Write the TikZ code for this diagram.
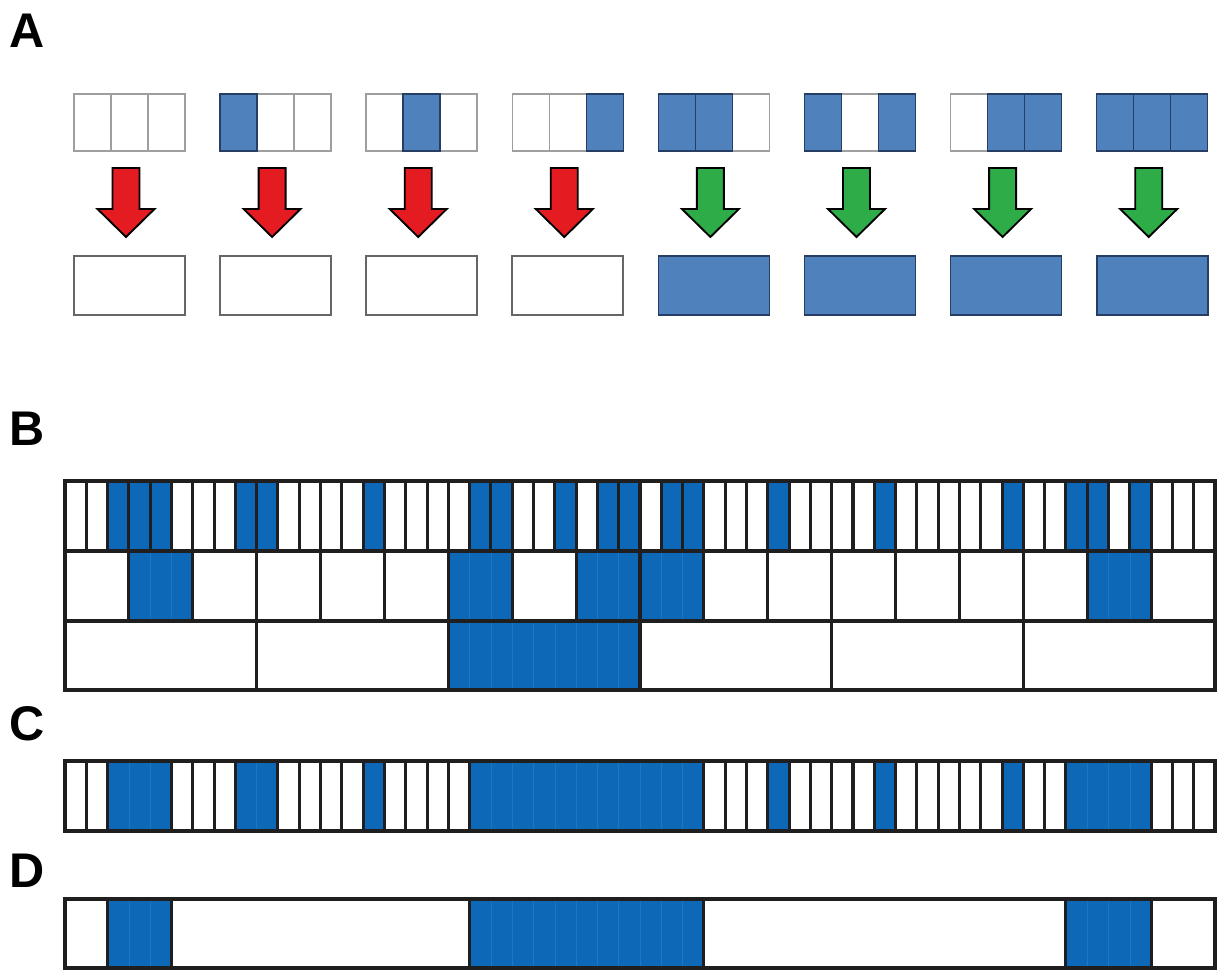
\documentclass[tikz,border=0pt]{standalone}
\usepackage{fontspec}
\setmainfont{Liberation Sans}
\definecolor{ablue}{RGB}{79,129,189}
\definecolor{anavy}{RGB}{38,62,100}
\definecolor{bblue}{RGB}{14,104,184}
\definecolor{fblue}{RGB}{34,118,192}
\definecolor{ared}{RGB}{228,28,34}
\definecolor{agreen}{RGB}{46,172,72}
\def\cellw{21.2963}
\newcommand\bluerun[4]{%
  \fill[bblue] ({65+#1*\cellw},#3) rectangle ({65+(#2+1)*\cellw},#4);
  \pgfmathtruncatemacro\nexta{#1+1}%
  \ifnum\nexta>#2\relax\else
    \foreach \k in {\nexta,...,#2} \draw[faint] ({65+\k*\cellw},#3) -- ({65+\k*\cellw},#4);
  \fi
  \draw[bline] ({65+#1*\cellw},#3) rectangle ({65+(#2+1)*\cellw},#4);
}
\begin{document}
\begin{tikzpicture}[x=0.75pt,y=-0.75pt,
  lbl/.style={anchor=base west, inner sep=0pt, font=\bfseries\fontsize{36.5}{42}\selectfont},
  graycell/.style={draw=black!38, line width=1.1pt, fill=white},
  bluecell/.style={draw=anavy, line width=1.1pt, fill=ablue},
  grayrect/.style={draw=black!60, line width=1.5pt, fill=white},
  bluerect/.style={draw=anavy, line width=1.3pt, fill=ablue},
  redarrow/.style={draw=black, line width=1.4pt, fill=ared, line join=miter},
  greenarrow/.style={draw=black, line width=1.4pt, fill=agreen, line join=miter},
  bline/.style={draw=black!88, line width=2.3pt},
  wcell/.style={draw=black!88, line width=2.3pt, fill=white},
  bcell/.style={draw=black!88, line width=2.3pt, fill=bblue},
  faint/.style={draw=fblue, line width=0.4pt}]
\useasboundingbox (0,0) rectangle (1217,970);

% labels
\node[lbl] (labA) at (9,48) {A};
\node[lbl] (labB) at (9,445) {B};
\node[lbl] (labC) at (9,740) {C};
\node[lbl] (labD) at (9,887) {D};

% panel A
\foreach \g/\pa/\pb/\pc/\res in {0/0/0/0/0,1/1/0/0/0,2/0/1/0/0,3/0/0/1/0,4/1/1/0/1,5/1/0/1/1,6/0/1/1/1,7/1/1/1/1}{
  \pgfmathsetmacro\L{74+146.1*\g}
  \foreach \i in {0,1,2} \draw[graycell] ({\L+37*\i},94) rectangle ({\L+37*(\i+1)},151);
  \ifnum\pa=1 \draw[bluecell] ({\L},94) rectangle ({\L+37},151); \fi
  \ifnum\pb=1 \draw[bluecell] ({\L+37},94) rectangle ({\L+74},151); \fi
  \ifnum\pc=1 \draw[bluecell] ({\L+74},94) rectangle ({\L+111},151); \fi
  \pgfmathsetmacro\cx{\L+52}
  \ifnum\res=1
    \draw[bluerect] ({\L},256) rectangle ({\L+111},315);
    \draw[greenarrow] ({\cx-13.5},168) -- ({\cx+13.5},168) -- ({\cx+13.5},209) -- ({\cx+28.5},209) -- ({\cx},237) -- ({\cx-28.5},209) -- ({\cx-13.5},209) -- cycle;
  \else
    \draw[grayrect] ({\L},256) rectangle ({\L+111},315);
    \draw[redarrow] ({\cx-13.5},168) -- ({\cx+13.5},168) -- ({\cx+13.5},209) -- ({\cx+28.5},209) -- ({\cx},237) -- ({\cx-28.5},209) -- ({\cx-13.5},209) -- cycle;
  \fi
}

% panel B, row 1
\foreach \k in {0,...,53} \draw[wcell] ({65+\k*\cellw},481) rectangle ({65+(\k+1)*\cellw},551);
\foreach \k in {2,3,4,8,9,14,19,20,23,25,26,28,29,33,38,44,47,48,50}
  \draw[bcell] ({65+\k*\cellw},481) rectangle ({65+(\k+1)*\cellw},551);
% row 2
\foreach \m in {0,...,17} \draw[wcell] ({65+3*\m*\cellw},551) rectangle ({65+(3*\m+3)*\cellw},621);
\bluerun{3}{5}{551}{621}
\bluerun{18}{20}{551}{621}
\bluerun{24}{26}{551}{621}
\bluerun{27}{29}{551}{621}
\bluerun{48}{50}{551}{621}
% row 3
\foreach \l in {0,...,5} \draw[wcell] ({65+9*\l*\cellw},621) rectangle ({65+(9*\l+9)*\cellw},690);
\bluerun{18}{26}{621}{690}

% panel C
\foreach \k in {0,...,53} \draw[wcell] ({65+\k*\cellw},761) rectangle ({65+(\k+1)*\cellw},831);
\bluerun{2}{4}{761}{831}
\bluerun{8}{9}{761}{831}
\bluerun{14}{14}{761}{831}
\bluerun{19}{29}{761}{831}
\bluerun{33}{33}{761}{831}
\bluerun{38}{38}{761}{831}
\bluerun{44}{44}{761}{831}
\bluerun{47}{50}{761}{831}

% panel D
\draw[wcell] (65,899) rectangle (1215,968);
\bluerun{2}{4}{899}{968}
\bluerun{19}{29}{899}{968}
\bluerun{47}{50}{899}{968}
\end{tikzpicture}
\end{document}
